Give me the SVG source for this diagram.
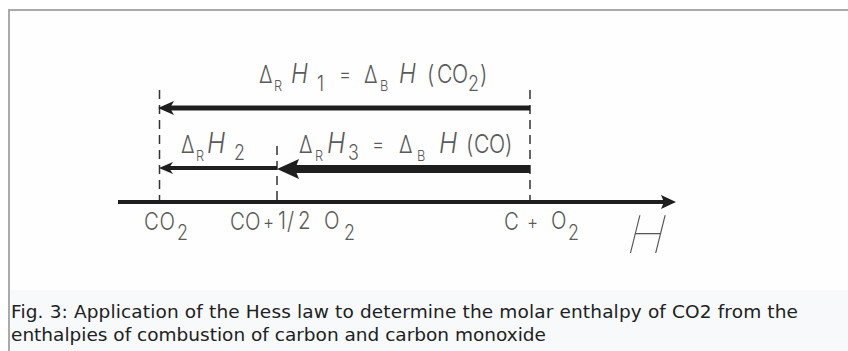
<svg xmlns="http://www.w3.org/2000/svg" width="848" height="351" viewBox="0 0 848 351">
<style>
.t{font-family:Inter,"DejaVu Sans",sans-serif;font-weight:300;fill:#5a5a5a;font-size:25px}
.b{font-size:24px}
.d{font-size:24px}
.e{font-size:22px}
.s{font-size:15px}
.n{font-size:21px}
.p{font-size:20px}
.i{font-style:italic;font-size:27px}
.j{font-style:italic;font-size:29px}
.cap{font-family:"DejaVu Sans",sans-serif;fill:#202122;font-size:18.5px}
.ln{stroke:#1e1e1e;fill:none}
.ah{fill:#1e1e1e}
.dash{stroke:#333;stroke-width:1.5;stroke-dasharray:9 6;fill:none}
.big{font-family:Inter,"DejaVu Sans",sans-serif;font-weight:100;font-size:52px;fill:#555}
</style>
<rect x="0" y="0" width="848" height="351" fill="#fff"/>
<rect x="10" y="11" width="838" height="279" fill="#fefefe"/>
<rect x="10" y="290" width="838" height="61" fill="#f8f9fa"/>
<path d="M9 351 V10 H848" stroke="#aaa" stroke-width="2" fill="none"/>

<g id="connectors">
<line class="dash" x1="159.5" y1="90" x2="159.5" y2="202"/>
<line class="dash" x1="277" y1="146" x2="277" y2="202"/>
<line class="dash" x1="530" y1="90" x2="530" y2="202"/>
<line class="ln" x1="530" y1="108" x2="168" y2="108" stroke-width="5"/>
<polygon class="ah" points="158,108 174,101 170,108 174,115"/>
<line class="ln" x1="277" y1="168" x2="168" y2="168" stroke-width="4"/>
<polygon class="ah" points="159,168 173,162 169,168 173,174"/>
<line class="ln" x1="530" y1="169" x2="290" y2="169" stroke-width="8"/>
<polygon class="ah" points="277,169 299,159 295,169 299,179"/>
<line class="ln" x1="118" y1="202" x2="664" y2="202" stroke-width="4"/>
<polygon class="ah" points="676,202 661,195 664,202 661,209"/>
</g>

<g transform="scale(0.85 1)">
<g id="label-h1">
<text class="t" y="83"><tspan class="d" x="304.7">Δ</tspan><tspan class="s" x="322.4" y="91">R</tspan><tspan class="i" x="342.4" y="83">H</tspan><tspan class="n" x="372.9" y="91">1</tspan><tspan class="e" x="398.8" y="82">=</tspan><tspan class="d" x="428.2" y="83">Δ</tspan><tspan class="s" x="447.1" y="91">B</tspan><tspan class="i" x="469.4" y="83">H</tspan><tspan x="502.4 514.1 531.8" y="83">(CO</tspan><tspan class="n" x="550.6" y="91">2</tspan><tspan x="564.7" y="83">)</tspan></text>
</g>
<g id="label-h2">
<text class="t" y="153"><tspan class="d" x="212.9">Δ</tspan><tspan class="s" x="230.6" y="161">R</tspan><tspan class="j" x="243.5" y="153">H</tspan><tspan class="n" x="275.3" y="160">2</tspan></text>
</g>
<g id="label-h3">
<text class="t" y="153"><tspan class="d" x="351.8">Δ</tspan><tspan class="s" x="370.6" y="161">R</tspan><tspan class="j" x="384.7" y="153">H</tspan><tspan class="n" x="409.4" y="160">3</tspan><tspan class="e" x="437.6" y="152">=</tspan><tspan class="d" x="469.4" y="153">Δ</tspan><tspan class="s" x="490.6" y="161">B</tspan><tspan class="j" x="516.5" y="153">H</tspan><tspan x="548.2 557.6 575.3 594.1" y="153">(CO)</tspan></text>
</g>
<g id="node-co2">
<text class="t b" y="230"><tspan x="169.4 187.6">CO</tspan><tspan class="n" x="208.2" y="240">2</tspan></text>
</g>
<g id="node-co">
<text class="t b" y="230"><tspan x="270.6 288.2">CO</tspan><tspan class="p" x="309.4" y="229">+</tspan><tspan x="327.1 337.6 350.6 381.2">1/2O</tspan><tspan class="n" x="404.7" y="240">2</tspan></text>
</g>
<g id="node-c">
<text class="t b" y="230"><tspan x="592.9">C</tspan><tspan class="p" x="620" y="229">+</tspan><tspan x="648.2">O</tspan><tspan class="n" x="668.2" y="240">2</tspan></text>
</g>
</g>
<g id="axis-label">
<text class="big" x="0" y="0" transform="translate(624,253) skewX(-14)">H</text>
</g>

<g id="caption">
<text class="cap" x="11" y="318" textLength="787">Fig. 3: Application of the Hess law to determine the molar enthalpy of CO2 from the</text>
<text class="cap" x="11" y="341">enthalpies of combustion of carbon and carbon monoxide</text>
</g>
</svg>
